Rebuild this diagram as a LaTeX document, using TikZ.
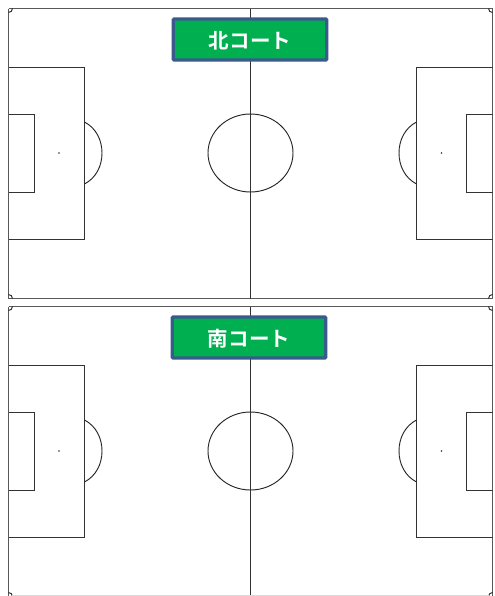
\documentclass[tikz,border=0pt]{standalone}
\usepackage{fontspec}
\newfontfamily\cjkbold[Script=CJK]{Noto Sans CJK JP Bold}
\definecolor{labelblue}{HTML}{3A5A8C}
\definecolor{labelgreen}{HTML}{00B050}
\tikzset{
  pitch/.style={draw=black!80, line width=1pt},
  thinline/.style={draw=black!85, line width=0.7pt},
  outer/.style={draw=black!65, line width=1.3pt},
  courtlabel/.style={draw=labelblue, fill=labelgreen, line width=2.4pt, rounded corners=0.8pt,
    minimum width=115.2pt, minimum height=30.8pt, inner sep=0pt, text height=14pt, text depth=0.8pt,
    text=white, font=\cjkbold\fontsize{15.4}{18}\selectfont},
  court/.pic={
    \draw[outer] (8.5,8.5) -- (492.5,8.5);
    \draw[outer] (8.5,8.5) -- (8.5,298.5);
    \draw[outer] (492.5,8.5) -- (492.5,298.5);
    \draw[outer] (8.5,298.5) -- (492.5,298.5);
    \draw[pitch] (250.5,8.5) -- (250.5,298.5);
    % penalty and goal areas
    \draw[pitch] (8.5,67.5) -| (84.5,239.5) -- (8.5,239.5);
    \draw[pitch] (8.5,114.5) -| (34.5,192.5) -- (8.5,192.5);
    \draw[pitch] (492.5,67.5) -| (416.5,239.5) -- (492.5,239.5);
    \draw[pitch] (492.5,114.5) -| (466.5,192.5) -- (492.5,192.5);
    % arcs
    \draw[thinline] (84.5,122) .. controls (96,128) and (102,140) .. (102,153) .. controls (102,166) and (96,178) .. (84.5,184);
    \draw[thinline] (416.5,122) .. controls (405,128) and (399,140) .. (399,153) .. controls (399,166) and (405,178) .. (416.5,184);
    % centre circle
    \draw[thinline] (250.5,153) ellipse[x radius=42.5, y radius=39];
    % spots
    \fill[black!80] (59,153) circle[radius=0.9];
    \fill[black!80] (441.5,153) circle[radius=0.9];
    \fill[black!80] (250.5,153) circle[radius=0.7];
    % corner arcs
    \draw[thinline] (8.5,12.5) .. controls (10.7,12.5) and (12.5,10.7) .. (12.5,8.5);
    \draw[thinline] (488.5,8.5) .. controls (488.5,10.7) and (490.3,12.5) .. (492.5,12.5);
    \draw[thinline] (8.5,294.5) .. controls (10.7,294.5) and (12.5,296.3) .. (12.5,298.5);
    \draw[thinline] (488.5,298.5) .. controls (488.5,296.3) and (490.3,294.5) .. (492.5,294.5);
  }
}
\begin{document}
\begin{tikzpicture}[x=0.75pt,y=-0.75pt]
\useasboundingbox (0,0) rectangle (495,596);
\pic at (0,0) {court};
\begin{scope}
\clip (0,0) rectangle (495,596);
\pic at (0,298) {court};
\draw[draw=black!15, line width=0.6pt] (12,595.5) -- (489,595.5);
\end{scope}
\node[courtlabel] (north) at (250,39.5) {北コート};
\node[courtlabel] (south) at (249,337.5) {南コート};
\end{tikzpicture}
\end{document}
